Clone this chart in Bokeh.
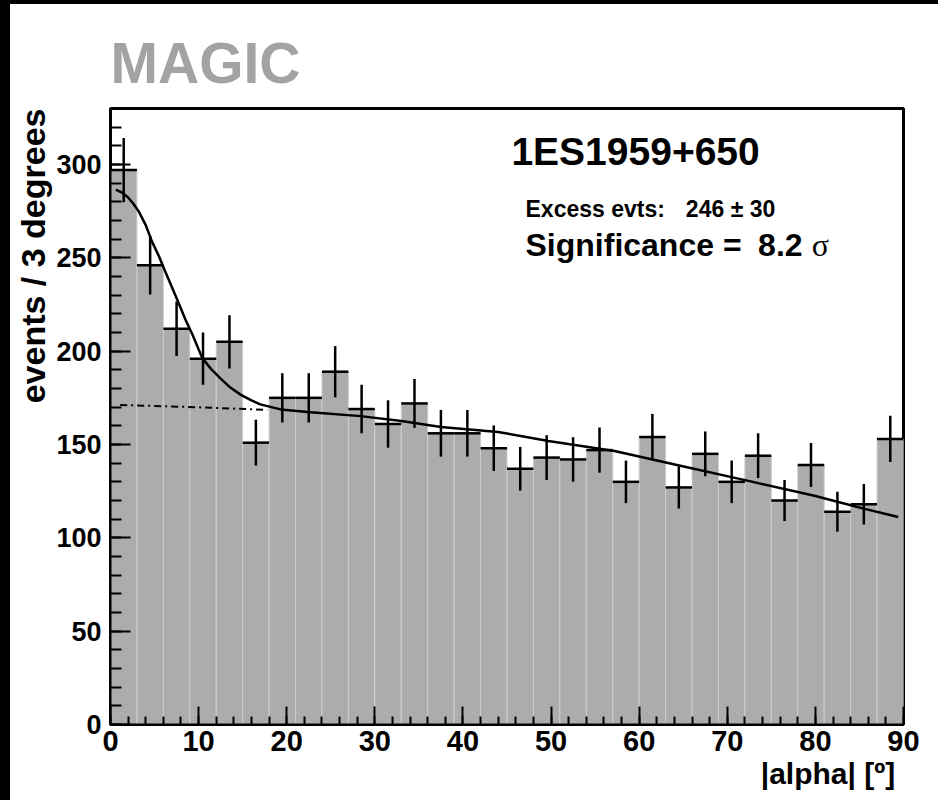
from bokeh.plotting import figure
from bokeh.models import Range1d, FixedTicker, Label, Title, Spacer
from bokeh.layouts import column, row
from bokeh.embed import file_html
from bokeh.resources import INLINE

# ---- data ----
bin_left = [0, 3, 6, 9, 12, 15, 18, 21, 24, 27, 30, 33, 36, 39, 42,
            45, 48, 51, 54, 57, 60, 63, 66, 69, 72, 75, 78, 81, 84, 87]
bin_width = 3
counts = [297, 246, 212, 196, 205, 151, 175, 175, 189, 169, 161, 172, 156, 156, 148,
          137, 143, 142, 147, 130, 154, 127, 145, 130, 144, 120, 139, 114, 118, 153]
errors = [17.2, 15.7, 14.6, 14.0, 14.3, 12.3, 13.2, 13.2, 13.7, 13.0, 12.7, 13.1, 12.5, 12.5, 12.2,
          11.7, 12.0, 11.9, 12.1, 11.4, 12.4, 11.3, 12.0, 11.4, 12.0, 11.0, 11.8, 10.7, 10.9, 12.4]

fit_alpha = [0.6, 1.3, 2.0, 2.6, 3.2, 4.0, 4.7, 5.5, 6.2, 7.0, 7.8, 8.5, 9.3, 10.4, 11.4,
             12.5, 13.6, 14.8, 16.0, 17.0, 19.3, 22.7, 28.4, 33.0, 37.5, 44.0, 49.7,
             57.2, 64.8, 72.4, 79.9, 85.6, 89.4]
fit_value = [286.6, 285.0, 282.3, 279.0, 274.9, 267.5, 258.8, 250.8, 242.8, 234.0, 225.0, 217.0,
             208.9, 196.4, 190.5, 185.3, 180.5, 176.6, 173.6, 171.5, 168.8, 167.3, 165.2, 162.6,
             159.4, 156.7, 151.9, 146.5, 138.5, 130.5, 122.5, 115.5, 111.2]

bkg_alpha = [1.1, 9.5, 17.8]
bkg_value = [171.2, 170.0, 168.6]

x_ticks = [0, 10, 20, 30, 40, 50, 60, 70, 80, 90]
x_minor = [a for a in range(0, 91, 2)]
y_ticks = [0, 50, 100, 150, 200, 250, 300]
y_minor = [v for v in range(0, 330, 10)]

FONT = "Liberation Sans"

# ---- figure ----
p = figure(width=928, height=796, x_range=Range1d(0, 90), y_range=Range1d(0, 330),
           output_backend="svg", toolbar_location=None,
           min_border_left=100, min_border_right=35, min_border_top=104, min_border_bottom=76)
p.margin = 0
p.background_fill_color = "white"
p.border_fill_color = "white"
p.outline_line_color = "black"
p.outline_line_width = 3
p.grid.visible = False

bin_right = [l + bin_width for l in bin_left]
bin_center = [l + bin_width / 2 for l in bin_left]

p.quad(left=bin_left, right=bin_right, bottom=0, top=counts,
       fill_color="#acacac", line_color="#cdcdcd", line_width=1)

# error crosses
p.segment(x0=bin_center, x1=bin_center,
          y0=[c - e for c, e in zip(counts, errors)],
          y1=[c + e for c, e in zip(counts, errors)],
          line_color="black", line_width=2.5)
p.segment(x0=bin_left, x1=bin_right, y0=counts, y1=counts,
          line_color="black", line_width=2.5)

# fit
p.line(bkg_alpha, bkg_value, line_color="black", line_width=2, line_dash="7 4 2 4")
p.line(fit_alpha, fit_value, line_color="black", line_width=2.5)

# axes
for ax in p.xaxis:
    ax.ticker = FixedTicker(ticks=x_ticks, minor_ticks=x_minor)
    ax.major_tick_in = 18
    ax.major_tick_out = 0
    ax.minor_tick_in = 8
    ax.minor_tick_out = 0
    ax.major_tick_line_width = 2
    ax.minor_tick_line_width = 2
    ax.axis_line_width = 2
    ax.major_label_standoff = 6
    ax.major_label_text_font = FONT
    ax.major_label_text_font_style = "bold"
    ax.major_label_text_font_size = "29px"
    ax.major_label_text_color = "black"

for ax in p.yaxis:
    ax.ticker = FixedTicker(ticks=y_ticks, minor_ticks=y_minor)
    ax.major_tick_in = 20
    ax.major_tick_out = 0
    ax.minor_tick_in = 11
    ax.minor_tick_out = 0
    ax.major_tick_line_width = 2
    ax.minor_tick_line_width = 2
    ax.axis_line_width = 2
    ax.major_label_standoff = 9
    ax.major_label_text_font = FONT
    ax.major_label_text_font_style = "bold"
    ax.major_label_text_font_size = "27px"
    ax.major_label_text_color = "black"

# titles outside the frame
p.add_layout(Title(text="MAGIC", align="left", text_font=FONT, text_font_style="bold",
                   text_font_size="57px", text_color="#a3a3a3", standoff=28), "above")
p.add_layout(Title(text="events / 3 degrees", align="right", text_font=FONT,
                   text_font_style="bold", text_font_size="34px", text_color="black",
                   standoff=3), "left")
p.add_layout(Title(text="|alpha|  [º]", align="right", text_font=FONT, text_font_style="bold",
                   text_font_size="30px", text_color="black", standoff=2), "below")

# texts inside the frame
p.add_layout(Label(x=45.5, y=307, text="1ES1959+650", text_font=FONT, text_font_style="bold",
                   text_font_size="39px", text_color="black",
                   text_align="left", text_baseline="middle"))
p.add_layout(Label(x=47.1, y=276, text="Excess evts:", text_font=FONT,
                   text_font_style="bold", text_font_size="23px", text_color="black",
                   text_align="left", text_baseline="middle"))
p.add_layout(Label(x=65.3, y=276, text="246 ± 30", text_font=FONT,
                   text_font_style="bold", text_font_size="23px", text_color="black",
                   text_align="left", text_baseline="middle"))
p.add_layout(Label(x=47.1, y=257, text="Significance =", text_font=FONT,
                   text_font_style="bold", text_font_size="32px", text_color="black",
                   text_align="left", text_baseline="middle"))
p.add_layout(Label(x=73.5, y=257, text="8.2", text_font=FONT,
                   text_font_style="bold", text_font_size="32px", text_color="black",
                   text_align="left", text_baseline="middle"))
p.add_layout(Label(x=79.6, y=257, text="σ", text_font="Liberation Serif",
                   text_font_size="32px", text_color="black",
                   text_align="left", text_baseline="middle"))

# dark frame strips of the picture (left and top)
left_strip = Spacer(width=10, height=800, margin=0, styles={"background-color": "black"})
top_strip = Spacer(width=928, height=4, margin=0, styles={"background-color": "black"})
layout = row(left_strip, column(top_strip, p, margin=0), margin=0)

open("out.html", "w").write(file_html(layout, INLINE))
